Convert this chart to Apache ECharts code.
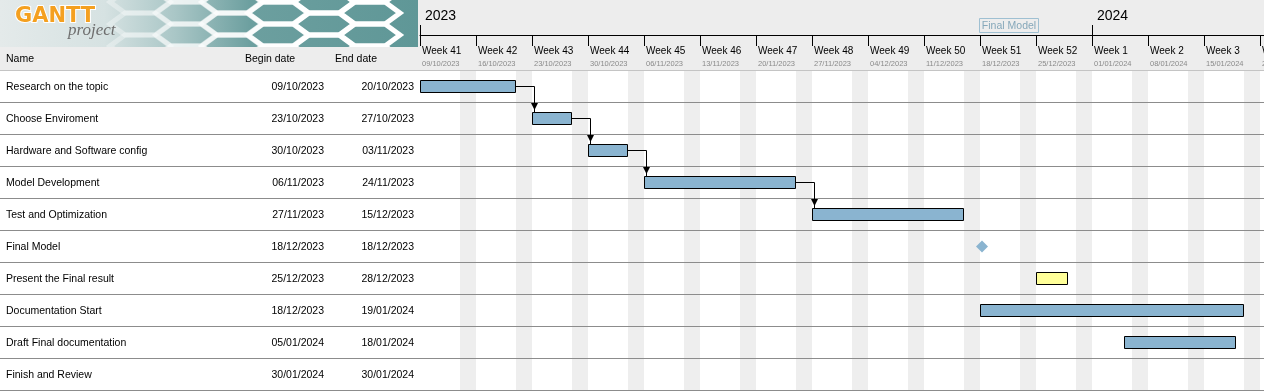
<!DOCTYPE html>
<html><head><meta charset="utf-8">
<script src="https://cdn.jsdelivr.net/npm/echarts@6/dist/echarts.min.js"></script>
<style>html,body{margin:0;padding:0;background:#fff;overflow:hidden}#c{width:1264px;height:391px}</style>
</head><body><div id="c"></div>
<script>
// ---------------- data ----------------
const taskNames = ['Research on the topic','Choose Enviroment','Hardware and Software config','Model Development','Test and Optimization','Final Model','Present the Final result','Documentation Start','Draft Final documentation','Finish and Review'];
const beginDates = ['09/10/2023','23/10/2023','30/10/2023','06/11/2023','27/11/2023','18/12/2023','25/12/2023','18/12/2023','05/01/2024','30/01/2024'];
const endDates   = ['20/10/2023','27/10/2023','03/11/2023','24/11/2023','15/12/2023','18/12/2023','28/12/2023','19/01/2024','18/01/2024','30/01/2024'];
const dependencies = [[0,1],[1,2],[2,3],[3,4]];
const weekLabels = ['Week 41','Week 42','Week 43','Week 44','Week 45','Week 46','Week 47','Week 48','Week 49','Week 50','Week 51','Week 52','Week 1','Week 2','Week 3','Week 4'];
const weekStarts = ['09/10/2023','16/10/2023','23/10/2023','30/10/2023','06/11/2023','13/11/2023','20/11/2023','27/11/2023','04/12/2023','11/12/2023','18/12/2023','25/12/2023','01/01/2024','08/01/2024','15/01/2024','22/01/2024'];
const yearLabels = ['2023','2024'];
const yearStarts = ['09/10/2023','01/01/2024'];
const viewStart = '09/10/2023';
const viewEnd = '22/01/2024';

// ---------------- styles ----------------
const BAR_FILL = '#8ab4d0';
const SPECIAL_FILL = {'Present the Final result': '#ffff99'};
const FONT = '"Liberation Sans", Arial, sans-serif';

const DAY = 86400000;
function d(s){const p=s.split('/').map(Number);return Date.UTC(p[2],p[1]-1,p[0]);}

const chart = echarts.init(document.getElementById('c'), null, {renderer:'canvas'});

const taskData = [], msData = [];
taskNames.forEach((n,i)=>{
  const b=d(beginDates[i]), e=d(endDates[i]);
  if (b===e) msData.push([i,b]); else taskData.push([i,b,e+DAY]);
});
const depData = dependencies.map(([a,b])=>[d(endDates[a])+DAY, a, d(beginDates[b]), b]);
const rowData = taskNames.map((n,i)=>[i]);
const weekData = weekStarts.map((s,i)=>[d(s), i]);
const yearData = yearStarts.map((s,i)=>[d(s), i]);
const X0 = d(viewStart);

function px(v){return Math.round(v)+0.5;}

// header / logo graphic
const logo = [];
logo.push({type:'rect', shape:{x:0,y:0,width:1264,height:70}, style:{fill:'#ededed'}, z:-10});
logo.push({type:'rect', shape:{x:0,y:0,width:418,height:47}, style:{fill:{type:'linear',x:0,y:0,x2:1,y2:0,colorStops:[
  {offset:0,color:'#e4eaea'},{offset:0.25,color:'#d6e2e2'},{offset:0.42,color:'#a9c6c6'},{offset:0.6,color:'#6c9f9f'},{offset:1,color:'#5f9797'}]}}, z:-5});
for (let k=0;k<6;k++){
  for (let j=-1;j<3;j++){
    const cx = 140 + k*46, cy = (k%2?11:0) + j*22 + 2;
    const w=60,h=22;
    logo.push({type:'polygon', shape:{points:[[cx-w/2,cy],[cx-w/4,cy-h/2],[cx+w/4,cy-h/2],[cx+w/2,cy],[cx+w/4,cy+h/2],[cx-w/4,cy+h/2]]},
      style:{fill:null, stroke:'#ffffff', lineWidth:5, opacity: Math.min(1, 0.35 + k*0.18)}, z:-4});
  }
}
logo.push({type:'rect', shape:{x:0,y:47,width:1264,height:23}, style:{fill:'#ededed'}, z:-3});
logo.push({type:'text', x:15, y:6, style:{text:'GANTT', font:'bold 21px "DejaVu Sans", sans-serif', fill:'#f4a020', stroke:'#ffffff', lineWidth:2}, z:-2});
logo.push({type:'text', x:68, y:22, style:{text:'project', font:'italic 17px "Liberation Serif", serif', fill:'#6e6e6e'}, z:-2});
logo.push({type:'text', x:6, y:59, style:{text:'Name', font:'10.5px '+FONT, fill:'#000', verticalAlign:'middle'}});
logo.push({type:'text', x:245, y:59, style:{text:'Begin date', font:'10.5px '+FONT, fill:'#000', verticalAlign:'middle'}});
logo.push({type:'text', x:335, y:59, style:{text:'End date', font:'10.5px '+FONT, fill:'#000', verticalAlign:'middle'}});
logo.push({type:'line', shape:{x1:0,y1:70.5,x2:1264,y2:70.5}, style:{stroke:'#c4c4c4', lineWidth:1}});

const option = {
  animation:false,
  backgroundColor:'#ffffff',
  graphic: logo,
  grid:{left:420, right:0, top:70, bottom:1, show:false},
  xAxis:[
    {type:'time', min:X0, max:d(viewEnd)+DAY/2, position:'bottom', show:false},
    {type:'time', min:X0, max:d(viewEnd)+DAY/2, position:'top', offset:35,
      axisLine:{show:true, lineStyle:{color:'#000', width:1}}, axisTick:{show:false}, axisLabel:{show:false}, splitLine:{show:false}}
  ],
  yAxis:{type:'category', data:taskNames, inverse:true, show:false},
  series:[
    { // weekend bands
      type:'custom', z:1, silent:true, data:weekData, encode:{x:0},
      renderItem(params, api){
        const t=api.value(0), cs=params.coordSys;
        const x1=Math.round(api.coord([t+5*DAY,0])[0]), x2=Math.round(api.coord([t+7*DAY,0])[0]);
        return {type:'rect', shape:{x:x1, y:cs.y+1, width:x2-x1, height:cs.height}, style:{fill:'#eeeeee'}};
      }
    },
    { // row separators
      type:'custom', z:2, silent:true, data:rowData, encode:{y:0}, clip:false,
      renderItem(params, api){
        const c=api.coord([X0, api.value(0)]), bw=api.size([0,1])[1];
        const y=px(c[1]+bw/2);
        return {type:'line', shape:{x1:0,y1:y,x2:params.coordSys.x+params.coordSys.width,y2:y}, style:{stroke:'#8c8c8c', lineWidth:1}};
      }
    },
    { // table text
      type:'custom', z:3, silent:true, data:rowData, encode:{y:0}, clip:false,
      renderItem(params, api){
        const i=api.value(0), y=Math.round(api.coord([X0,i])[1]);
        const f='10.5px '+FONT;
        return {type:'group', children:[
          {type:'text', x:6, y:y+1.5, style:{text:taskNames[i], font:f, fill:'#000', verticalAlign:'middle', align:'left'}},
          {type:'text', x:324, y:y+1.5, style:{text:beginDates[i], font:f, fill:'#000', verticalAlign:'middle', align:'right'}},
          {type:'text', x:414, y:y+1.5, style:{text:endDates[i], font:f, fill:'#000', verticalAlign:'middle', align:'right'}}
        ]};
      }
    },
    { // week header ticks + labels
      type:'custom', z:3, silent:true, data:weekData, encode:{x:0}, clip:false,
      renderItem(params, api){
        const i=api.value(1), x=Math.round(api.coord([api.value(0),0])[0]);
        return {type:'group', children:[
          {type:'line', shape:{x1:x+0.5,y1:35,x2:x+0.5,y2:46}, style:{stroke:'#000', lineWidth:1}},
          {type:'text', x:x+2, y:51, style:{text:weekLabels[i], font:'10px '+FONT, fill:'#000', verticalAlign:'middle'}},
          {type:'text', x:x+2, y:64, style:{text:weekStarts[i], font:'7.5px '+FONT, fill:'#8a8a8a', verticalAlign:'middle'}}
        ]};
      }
    },
    { // year header
      type:'custom', z:3, silent:true, data:yearData, encode:{x:0}, clip:false,
      renderItem(params, api){
        const i=api.value(1), x=Math.round(api.coord([api.value(0),0])[0]);
        return {type:'group', children:[
          {type:'line', shape:{x1:x+0.5,y1:25,x2:x+0.5,y2:35}, style:{stroke:'#000', lineWidth:1}},
          {type:'text', x:x+5, y:16, style:{text:yearLabels[i], font:'14px '+FONT, fill:'#000', verticalAlign:'middle'}}
        ]};
      }
    },
    { // task bars
      type:'custom', z:5, silent:true, data:taskData, encode:{x:[1,2], y:0},
      renderItem(params, api){
        const i=api.value(0);
        const s=api.coord([api.value(1), i]), e=api.coord([api.value(2), i]);
        const x1=Math.round(s[0]), x2=Math.round(e[0]), cy=Math.round(s[1]);
        return {type:'rect', shape:{x:x1+0.5, y:cy-6+0.5, width:x2-x1-1, height:12},
          style:{fill:SPECIAL_FILL[taskNames[i]]||BAR_FILL, stroke:'#000', lineWidth:1}};
      }
    },
    { // milestones
      type:'custom', z:5, silent:true, data:msData, encode:{x:1, y:0}, clip:false,
      renderItem(params, api){
        const i=api.value(0), c=api.coord([api.value(1), i]);
        const x=Math.round(c[0])+2, y=Math.round(c[1])+0.5, r=6;
        return {type:'group', children:[
          {type:'polygon', shape:{points:[[x,y-r],[x+r,y],[x,y+r],[x-r,y]]}, style:{fill:BAR_FILL}},
          {type:'rect', shape:{x:x-2.5, y:18.5, width:59, height:14}, style:{fill:'#ededed', stroke:'#9fc0d2', lineWidth:1}},
          {type:'text', x:x+27, y:26, style:{text:taskNames[i], font:'10.5px '+FONT, fill:'#86a8ba', align:'center', verticalAlign:'middle'}}
        ]};
      }
    },
    { // dependency arrows
      type:'custom', z:6, silent:true, data:depData, encode:{x:[0,2], y:[1,3]},
      renderItem(params, api){
        const a=api.coord([api.value(0), api.value(1)]), b=api.coord([api.value(2), api.value(3)]);
        const x1=Math.round(a[0]), y1=Math.round(a[1])+0.5;
        const cx=Math.round(b[0])+2.5, top=Math.round(b[1])-6;
        return {type:'group', children:[
          {type:'polyline', shape:{points:[[x1,y1],[cx,y1],[cx,top]]}, style:{stroke:'#000', lineWidth:1, fill:null}},
          {type:'polygon', shape:{points:[[cx-3.5,top-9],[cx+3.5,top-9],[cx,top-2]]}, style:{fill:'#000'}}
        ]};
      }
    }
  ]
};
chart.setOption(option);
</script></body></html>
